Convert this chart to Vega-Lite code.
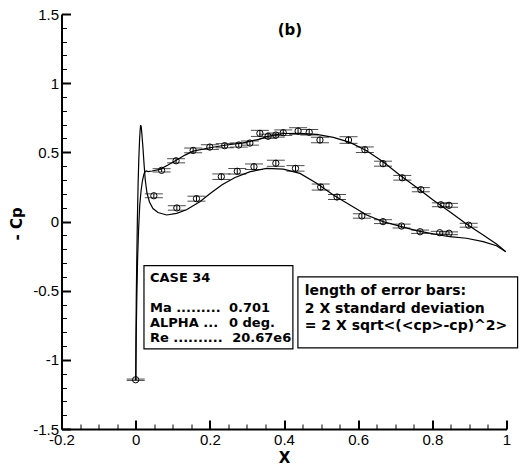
{
  "$schema": "https://vega.github.io/schema/vega-lite/v6.json",
  "width": 445,
  "height": 415,
  "autosize": "none",
  "padding": {"left": 61.5, "top": 14, "right": 16.5, "bottom": 39},
  "config": {
    "view": {"stroke": null},
    "axis": {
      "domainColor": "black", "domainWidth": 2, "tickColor": "black",
      "labelColor": "black", "labelFont": "Liberation Sans", "labelFontSize": 15,
      "labelFlush": false, "labelOverlap": false, "grid": false,
      "titleColor": "black", "titleFont": "DejaVu Sans", "titleFontSize": 15, "titleFontWeight": "bold"
    }
  },
  "datasets": {
    "cfd": [
      {"s":"lo","i":0,"x":0.0003,"cp":-1.145},{"s":"lo","i":1,"x":0.0008,"cp":-0.856},{"s":"lo","i":2,"x":0.0016,"cp":-0.567},
      {"s":"lo","i":3,"x":0.003,"cp":-0.278},{"s":"lo","i":4,"x":0.0046,"cp":0.011},{"s":"lo","i":5,"x":0.0065,"cp":0.264},
      {"s":"lo","i":6,"x":0.0084,"cp":0.444},{"s":"lo","i":7,"x":0.0105,"cp":0.589},{"s":"lo","i":8,"x":0.0121,"cp":0.661},
      {"s":"lo","i":9,"x":0.0135,"cp":0.697},{"s":"lo","i":10,"x":0.0151,"cp":0.683},{"s":"lo","i":11,"x":0.017,"cp":0.625},
      {"s":"lo","i":12,"x":0.0197,"cp":0.531},{"s":"lo","i":13,"x":0.0224,"cp":0.423},{"s":"lo","i":14,"x":0.0259,"cp":0.3},
      {"s":"lo","i":15,"x":0.0305,"cp":0.206},{"s":"lo","i":16,"x":0.0372,"cp":0.141},{"s":"lo","i":17,"x":0.0466,"cp":0.094},
      {"s":"lo","i":18,"x":0.0601,"cp":0.065},{"s":"lo","i":19,"x":0.0836,"cp":0.047},{"s":"lo","i":20,"x":0.1105,"cp":0.059},
      {"s":"lo","i":21,"x":0.137,"cp":0.085},{"s":"lo","i":22,"x":0.173,"cp":0.143},{"s":"lo","i":23,"x":0.2,"cp":0.2},
      {"s":"lo","i":24,"x":0.233,"cp":0.265},{"s":"lo","i":25,"x":0.268,"cp":0.318},{"s":"lo","i":26,"x":0.309,"cp":0.36},
      {"s":"lo","i":27,"x":0.353,"cp":0.384},{"s":"lo","i":28,"x":0.398,"cp":0.379},{"s":"lo","i":29,"x":0.443,"cp":0.348},
      {"s":"lo","i":30,"x":0.488,"cp":0.276},{"s":"lo","i":31,"x":0.533,"cp":0.191},{"s":"lo","i":32,"x":0.578,"cp":0.119},
      {"s":"lo","i":33,"x":0.623,"cp":0.047},{"s":"lo","i":34,"x":0.667,"cp":-0.001},{"s":"lo","i":35,"x":0.712,"cp":-0.033},
      {"s":"lo","i":36,"x":0.757,"cp":-0.066},{"s":"lo","i":37,"x":0.802,"cp":-0.09},{"s":"lo","i":38,"x":0.847,"cp":-0.11},
      {"s":"lo","i":39,"x":0.892,"cp":-0.121},{"s":"lo","i":40,"x":0.937,"cp":-0.146},{"s":"lo","i":41,"x":0.973,"cp":-0.175},
      {"s":"lo","i":42,"x":0.998,"cp":-0.218},
      {"s":"up","i":0,"x":0.0003,"cp":-1.145},{"s":"up","i":1,"x":0.0013,"cp":-0.856},{"s":"up","i":2,"x":0.003,"cp":-0.567},
      {"s":"up","i":3,"x":0.0051,"cp":-0.278},{"s":"up","i":4,"x":0.0078,"cp":-0.061},{"s":"up","i":5,"x":0.011,"cp":0.119},
      {"s":"up","i":6,"x":0.0148,"cp":0.228},{"s":"up","i":7,"x":0.0186,"cp":0.3},{"s":"up","i":8,"x":0.0224,"cp":0.343},
      {"s":"up","i":9,"x":0.0259,"cp":0.361},{"s":"up","i":10,"x":0.0291,"cp":0.365},{"s":"up","i":11,"x":0.0332,"cp":0.361},
      {"s":"up","i":12,"x":0.044,"cp":0.365},{"s":"up","i":13,"x":0.0655,"cp":0.377},{"s":"up","i":14,"x":0.087,"cp":0.408},
      {"s":"up","i":15,"x":0.1105,"cp":0.444},{"s":"up","i":16,"x":0.133,"cp":0.48},{"s":"up","i":17,"x":0.155,"cp":0.509},
      {"s":"up","i":18,"x":0.2,"cp":0.533},{"s":"up","i":19,"x":0.245,"cp":0.553},{"s":"up","i":20,"x":0.29,"cp":0.569},
      {"s":"up","i":21,"x":0.335,"cp":0.596},{"s":"up","i":22,"x":0.353,"cp":0.614},{"s":"up","i":23,"x":0.398,"cp":0.636},
      {"s":"up","i":24,"x":0.443,"cp":0.637},{"s":"up","i":25,"x":0.488,"cp":0.63},{"s":"up","i":26,"x":0.533,"cp":0.608},
      {"s":"up","i":27,"x":0.578,"cp":0.572},{"s":"up","i":28,"x":0.623,"cp":0.512},{"s":"up","i":29,"x":0.667,"cp":0.432},
      {"s":"up","i":30,"x":0.712,"cp":0.336},{"s":"up","i":31,"x":0.757,"cp":0.247},{"s":"up","i":32,"x":0.802,"cp":0.155},
      {"s":"up","i":33,"x":0.847,"cp":0.071},{"s":"up","i":34,"x":0.892,"cp":-0.018},{"s":"up","i":35,"x":0.937,"cp":-0.098},
      {"s":"up","i":36,"x":0.973,"cp":-0.163},{"s":"up","i":37,"x":0.998,"cp":-0.218}
    ],
    "exp": [
      {"x":0.07,"cp":0.37,"lo":0.358,"hi":0.382},
      {"x":0.109,"cp":0.439,"lo":0.424,"hi":0.454},
      {"x":0.155,"cp":0.514,"lo":0.497,"hi":0.531},
      {"x":0.2,"cp":0.538,"lo":0.521,"hi":0.555},
      {"x":0.24,"cp":0.548,"lo":0.533,"hi":0.563},
      {"x":0.278,"cp":0.553,"lo":0.538,"hi":0.568},
      {"x":0.308,"cp":0.567,"lo":0.552,"hi":0.582},
      {"x":0.335,"cp":0.637,"lo":0.615,"hi":0.659},
      {"x":0.357,"cp":0.616,"lo":0.601,"hi":0.631},
      {"x":0.378,"cp":0.625,"lo":0.61,"hi":0.64},
      {"x":0.398,"cp":0.642,"lo":0.622,"hi":0.662},
      {"x":0.438,"cp":0.654,"lo":0.63,"hi":0.678},
      {"x":0.468,"cp":0.645,"lo":0.625,"hi":0.665},
      {"x":0.497,"cp":0.589,"lo":0.569,"hi":0.609},
      {"x":0.574,"cp":0.589,"lo":0.565,"hi":0.613},
      {"x":0.618,"cp":0.519,"lo":0.499,"hi":0.539},
      {"x":0.667,"cp":0.418,"lo":0.4,"hi":0.436},
      {"x":0.719,"cp":0.316,"lo":0.299,"hi":0.333},
      {"x":0.769,"cp":0.23,"lo":0.215,"hi":0.245},
      {"x":0.823,"cp":0.121,"lo":0.107,"hi":0.135},
      {"x":0.845,"cp":0.117,"lo":0.103,"hi":0.131},
      {"x":0.898,"cp":-0.027,"lo":-0.041,"hi":-0.013},
      {"x":0.049,"cp":0.186,"lo":0.172,"hi":0.2},
      {"x":0.111,"cp":0.098,"lo":0.082,"hi":0.114},
      {"x":0.164,"cp":0.165,"lo":0.147,"hi":0.183},
      {"x":0.231,"cp":0.324,"lo":0.304,"hi":0.344},
      {"x":0.274,"cp":0.363,"lo":0.343,"hi":0.383},
      {"x":0.319,"cp":0.396,"lo":0.376,"hi":0.416},
      {"x":0.378,"cp":0.421,"lo":0.399,"hi":0.443},
      {"x":0.431,"cp":0.384,"lo":0.364,"hi":0.404},
      {"x":0.499,"cp":0.249,"lo":0.227,"hi":0.271},
      {"x":0.543,"cp":0.177,"lo":0.159,"hi":0.195},
      {"x":0.61,"cp":0.04,"lo":0.024,"hi":0.056},
      {"x":0.667,"cp":-0.001,"lo":-0.015,"hi":0.013},
      {"x":0.717,"cp":-0.033,"lo":-0.047,"hi":-0.019},
      {"x":0.767,"cp":-0.074,"lo":-0.086,"hi":-0.062},
      {"x":0.82,"cp":-0.081,"lo":-0.091,"hi":-0.071},
      {"x":0.845,"cp":-0.085,"lo":-0.095,"hi":-0.075},
      {"x":0.0,"cp":-1.144,"lo":-1.149,"hi":-1.139}
    ],
    "boxes": [
      {"x1":0.0224,"x2":0.424,"y1":-0.319,"y2":-0.921},
      {"x1":0.4375,"x2":1.03,"y1":-0.401,"y2":-0.914}
    ],
    "case": [
      {"x":0.0385,"y":-0.435,"t":"CASE 34"},
      {"x":0.0385,"y":-0.656,"t":"Ma ........."},
      {"x":0.2515,"y":-0.656,"t":"0.701"},
      {"x":0.0385,"y":-0.76,"t":"ALPHA ..."},
      {"x":0.2515,"y":-0.76,"t":"0 deg."},
      {"x":0.0385,"y":-0.868,"t":"Re .........."},
      {"x":0.2604,"y":-0.868,"t":"20.67e6"}
    ],
    "note": [
      {"x":0.456,"y":-0.531,"t":"length of error bars:"},
      {"x":0.456,"y":-0.661,"t":"2 X standard deviation"},
      {"x":0.456,"y":-0.784,"t":"= 2 X sqrt<(<cp>-cp)^2>"}
    ],
    "label": [{"x":0.416,"y":1.348,"t":"(b)"}]
  },
  "layer": [
    {
      "data": {"name": "cfd"},
      "mark": {"type": "line", "color": "black", "strokeWidth": 1.2, "interpolate": "linear"},
      "encoding": {
        "x": {
          "field": "x", "type": "quantitative",
          "scale": {"domain": [-0.2, 1], "nice": false, "zero": false},
          "axis": {
            "values": [-0.2,-0.15,-0.1,-0.05,0,0.05,0.1,0.15,0.2,0.25,0.3,0.35,0.4,0.45,0.5,0.55,0.6,0.65,0.7,0.75,0.8,0.85,0.9,0.95,1],
            "tickCount": 200,
            "labelExpr": "abs(datum.value*5-round(datum.value*5))<1e-6 ? '' + datum.value : ''",
            "tickSize": {"condition": {"test": "abs(datum.value*5-round(datum.value*5))<1e-6", "value": -9}, "value": -5},
            "tickWidth": {"condition": {"test": "abs(datum.value*5-round(datum.value*5))<1e-6", "value": 2}, "value": 1},
            "labelPadding": 12, "labelOverlap": false, "labelFlush": false,
            "title": "X", "titleX": 222.5, "titleY": 33.7, "titleBaseline": "alphabetic", "titleAlign": "center"
          }
        },
        "y": {
          "field": "cp", "type": "quantitative",
          "scale": {"domain": [-1.5, 1.5], "nice": false, "zero": false},
          "axis": {
            "values": [-1.5,-1.4,-1.3,-1.2,-1.1,-1,-0.9,-0.8,-0.7,-0.6,-0.5,-0.4,-0.3,-0.2,-0.1,0,0.1,0.2,0.3,0.4,0.5,0.6,0.7,0.8,0.9,1,1.1,1.2,1.3,1.4,1.5],
            "tickCount": 200,
            "labelExpr": "abs(datum.value*2-round(datum.value*2))<1e-6 ? '' + datum.value : ''",
            "tickSize": {"condition": {"test": "abs(datum.value*2-round(datum.value*2))<1e-6", "value": -9}, "value": -5},
            "tickWidth": {"condition": {"test": "abs(datum.value*2-round(datum.value*2))<1e-6", "value": 2}, "value": 1},
            "labelPadding": 12, "labelOverlap": false, "labelFlush": false,
            "title": "- Cp", "titleX": -40.5, "titleY": 209.4, "titleAngle": 270, "titleBaseline": "alphabetic", "titleAlign": "center"
          }
        },
        "detail": {"field": "s"},
        "order": {"field": "i", "type": "quantitative"}
      }
    },
    {
      "data": {"name": "exp"},
      "mark": {"type": "rule", "color": "black", "strokeWidth": 1},
      "encoding": {
        "x": {"field": "x", "type": "quantitative"},
        "y": {"field": "lo", "type": "quantitative"},
        "y2": {"field": "hi"}
      }
    },
    {
      "data": {"name": "exp"},
      "mark": {"type": "tick", "orient": "horizontal", "color": "black", "size": 18, "thickness": 1},
      "encoding": {
        "x": {"field": "x", "type": "quantitative"},
        "y": {"field": "lo", "type": "quantitative"}
      }
    },
    {
      "data": {"name": "exp"},
      "mark": {"type": "tick", "orient": "horizontal", "color": "black", "size": 18, "thickness": 1},
      "encoding": {
        "x": {"field": "x", "type": "quantitative"},
        "y": {"field": "hi", "type": "quantitative"}
      }
    },
    {
      "data": {"name": "exp"},
      "mark": {"type": "point", "shape": "circle", "filled": false, "stroke": "black", "strokeWidth": 1, "size": 40, "opacity": 1},
      "encoding": {
        "x": {"field": "x", "type": "quantitative"},
        "y": {"field": "cp", "type": "quantitative"}
      }
    },
    {
      "data": {"name": "boxes"},
      "mark": {"type": "rect", "fill": "white", "stroke": "black", "strokeWidth": 1.2},
      "encoding": {
        "x": {"field": "x1", "type": "quantitative"},
        "x2": {"field": "x2"},
        "y": {"field": "y1", "type": "quantitative"},
        "y2": {"field": "y2"}
      }
    },
    {
      "data": {"name": "case"},
      "mark": {"type": "text", "font": "DejaVu Sans", "fontWeight": "bold", "fontSize": 13, "align": "left", "baseline": "alphabetic", "color": "black"},
      "encoding": {
        "x": {"field": "x", "type": "quantitative"},
        "y": {"field": "y", "type": "quantitative"},
        "text": {"field": "t"}
      }
    },
    {
      "data": {"name": "note"},
      "mark": {"type": "text", "font": "DejaVu Sans", "fontWeight": "bold", "fontSize": 14, "align": "left", "baseline": "alphabetic", "color": "black"},
      "encoding": {
        "x": {"field": "x", "type": "quantitative"},
        "y": {"field": "y", "type": "quantitative"},
        "text": {"field": "t"}
      }
    },
    {
      "data": {"name": "label"},
      "mark": {"type": "text", "font": "DejaVu Sans", "fontWeight": "bold", "fontSize": 15, "align": "center", "baseline": "alphabetic", "color": "black"},
      "encoding": {
        "x": {"field": "x", "type": "quantitative"},
        "y": {"field": "y", "type": "quantitative"},
        "text": {"field": "t"}
      }
    }
  ]
}
